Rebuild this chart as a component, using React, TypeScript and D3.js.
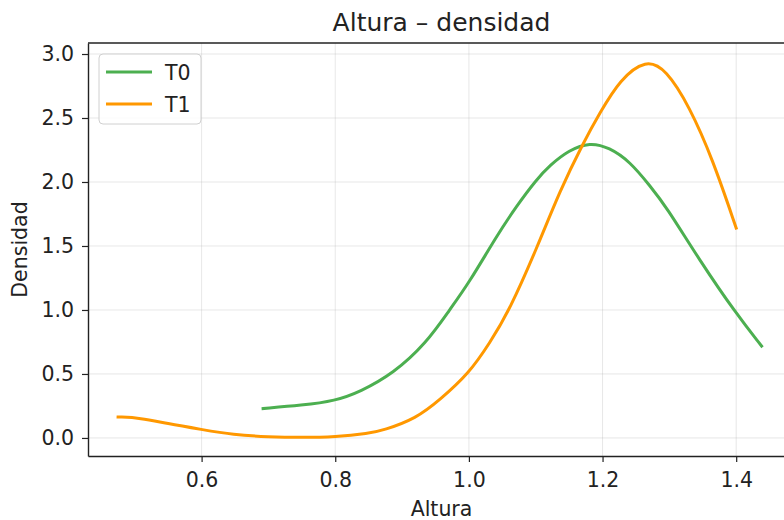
import React, { useEffect, useRef } from "react";
import { axisBottom, axisLeft, curveBasis, format, line, scaleLinear, select } from "d3";

const width = 784;
const height = 520;
const plot = { left: 88, right: 795, top: 43, bottom: 456 };

// values
const t0Altura = [0.692, 0.75, 0.8, 0.837, 0.887, 0.936, 0.971, 1.0, 1.041, 1.071, 1.101, 1.121, 1.15, 1.181, 1.21, 1.241, 1.271, 1.295, 1.345, 1.4, 1.438];
const t0Densidad = [0.23, 0.255, 0.29, 0.36, 0.504, 0.739, 1.0, 1.21, 1.574, 1.81, 2.018, 2.13, 2.25, 2.31, 2.27, 2.16, 1.97, 1.81, 1.39, 0.97, 0.718];

const t1Altura = [0.475, 0.508, 0.548, 0.6, 0.647, 0.7, 0.75, 0.8, 0.85, 0.872, 0.921, 0.957, 1.0, 1.031, 1.061, 1.103, 1.136, 1.171, 1.196, 1.226, 1.265, 1.295, 1.33, 1.365, 1.4];
const t1Densidad = [0.164, 0.157, 0.113, 0.066, 0.025, 0.008, 0.003, 0.008, 0.035, 0.06, 0.152, 0.3, 0.504, 0.74, 1.0, 1.5, 1.93, 2.305, 2.54, 2.8, 2.96, 2.88, 2.59, 2.175, 1.64];

const xTicks = [0.6, 0.8, 1.0, 1.2, 1.4];
const yTicks = [0, 0.5, 1.0, 1.5, 2.0, 2.5, 3.0];

const series = [
  { name: "T0", xs: t0Altura, ys: t0Densidad, color: "#4CAF50" },
  { name: "T1", xs: t1Altura, ys: t1Densidad, color: "#FF9800" }
];

const font = "DejaVu Sans, sans-serif";

const xScale = scaleLinear().domain([0.43, 1.488]).range([plot.left, plot.right]);
const yScale = scaleLinear().domain([-0.141, 3.086]).range([plot.bottom, plot.top]);

export default function App() {
  const xAxisRef = useRef<SVGGElement>(null);
  const yAxisRef = useRef<SVGGElement>(null);

  useEffect(() => {
    const xAxis = axisBottom(xScale)
      .tickValues(xTicks)
      .tickFormat(format(".1f"))
      .tickSize(6)
      .tickSizeOuter(0)
      .tickPadding(10);
    const yAxis = axisLeft(yScale)
      .tickValues(yTicks)
      .tickFormat(format(".1f"))
      .tickSize(6)
      .tickSizeOuter(0)
      .tickPadding(8);

    const gx = select(xAxisRef.current!).call(xAxis);
    const gy = select(yAxisRef.current!).call(yAxis);
    [gx, gy].forEach(g => {
      g.attr("font-family", font).attr("font-size", 20.5);
      g.selectAll("text").attr("fill", "#222");
      g.selectAll(".tick line").attr("stroke", "#222").attr("stroke-width", 1.2);
      g.select(".domain").attr("stroke", "#222").attr("stroke-width", 1.4);
    });
  }, []);

  // smooth the read-off points (the original curves are KDEs)
  const path = line<[number, number]>()
    .x(d => xScale(d[0]))
    .y(d => yScale(d[1]))
    .curve(curveBasis);

  return (
    <svg
      width={width}
      height={height}
      style={{ position: "absolute", left: 0, top: 0, background: "#fff" }}
    >
      <g>
        {xTicks.map(t => (
          <line key={"gx" + t} x1={xScale(t)} x2={xScale(t)} y1={plot.top} y2={plot.bottom}
            stroke="#b0b0b0" strokeOpacity={0.3} strokeWidth={1} />
        ))}
        {yTicks.map(t => (
          <line key={"gy" + t} x1={plot.left} x2={plot.right} y1={yScale(t)} y2={yScale(t)}
            stroke="#b0b0b0" strokeOpacity={0.3} strokeWidth={1} />
        ))}
      </g>

      {series.map(s => (
        <path
          key={s.name}
          d={path(s.xs.map((x, i) => [x, s.ys[i]] as [number, number])) || ""}
          fill="none"
          stroke={s.color}
          strokeWidth={3}
          strokeLinecap="square"
        />
      ))}

      <line x1={plot.left} x2={plot.right} y1={plot.top} y2={plot.top} stroke="#222" strokeWidth={1.4} />
      <line x1={plot.right} x2={plot.right} y1={plot.top} y2={plot.bottom} stroke="#222" strokeWidth={1.4} />
      <g ref={xAxisRef} transform={`translate(0,${plot.bottom})`} />
      <g ref={yAxisRef} transform={`translate(${plot.left},0)`} />

      <g fontFamily={font} fontSize={20.5} fill="#222">
        <rect x={99} y={54} width={102} height={70} rx={4} fill="#fff" fillOpacity={0.8} stroke="#d0d0d0" strokeWidth={1} />
        {series.map((s, i) => (
          <g key={"lg" + s.name} transform={`translate(0,${72 + i * 32})`}>
            <line x1={106} x2={152} y1={0} y2={0} stroke={s.color} strokeWidth={3} />
            <text x={165} y={7.5}>{s.name}</text>
          </g>
        ))}
      </g>

      <text x={(plot.left + plot.right) / 2} y={31} textAnchor="middle" fontFamily={font} fontSize={25} fill="#222">
        Altura – densidad
      </text>
      <text x={(plot.left + plot.right) / 2} y={516} textAnchor="middle" fontFamily={font} fontSize={20.5} fill="#222">
        Altura
      </text>
      <text
        transform={`translate(27,${(plot.top + plot.bottom) / 2}) rotate(-90)`}
        textAnchor="middle"
        fontFamily={font}
        fontSize={20.5}
        fill="#222"
      >
        Densidad
      </text>
    </svg>
  );
}
